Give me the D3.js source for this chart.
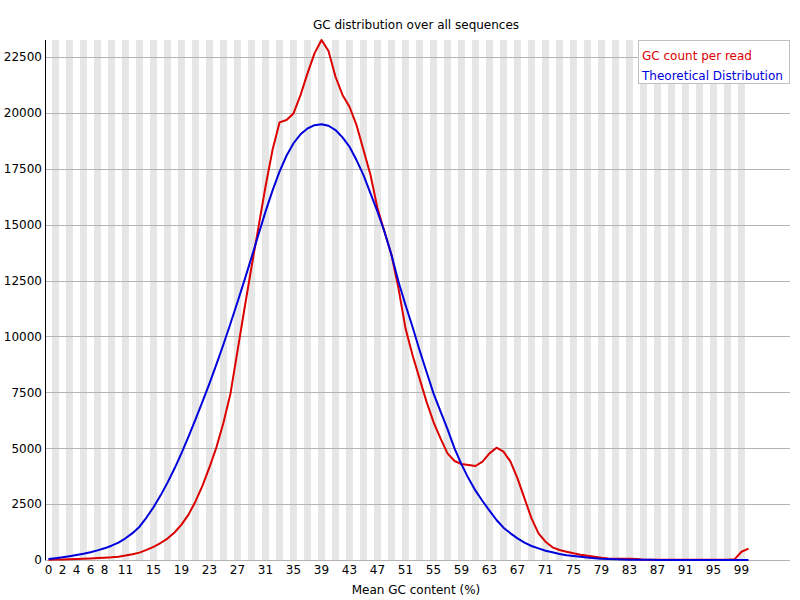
<!DOCTYPE html>
<html>
<head>
<meta charset="utf-8">
<script src="https://cdn.jsdelivr.net/npm/d3@7"></script>
<style>
  html, body { margin: 0; padding: 0; background: #fff; }
  svg { display: block; font-family: "DejaVu Sans", sans-serif; }
</style>
</head>
<body>
<svg id="chart" width="800" height="600"></svg>
<script>
// ---- data ----
const gcCategories = d3.range(0, 101).map(String);

const gcCountPerRead = [
  15, 20, 25, 30, 40, 55, 70, 85, 100, 120,
  150, 200, 260, 330, 450, 590, 760, 960, 1230, 1580,
  2030, 2620, 3330, 4150, 5050, 6150, 7450, 9350, 11250, 13100,
  14900, 16700, 18335, 19573, 19677, 19975, 20795, 21765, 22660, 23258,
  22763, 21614, 20800, 20272, 19453, 18335, 17217, 15727, 14682, 13640,
  12150, 10361, 9168, 8125, 7082, 6171, 5440, 4770, 4427, 4293,
  4248, 4204, 4398, 4770, 5023, 4845, 4398, 3652, 2758, 1863,
  1193, 820, 566, 447, 372, 298, 238, 194, 149, 104,
  70, 60, 55, 55, 50, 15, 12, 10, 10, 10,
  10, 10, 10, 10, 10, 10, 10, 10, 30, 370,
  510
];

const theoreticalDistribution = [
  45, 80, 119, 170, 224, 280, 343, 430, 522, 640,
  780, 970, 1200, 1490, 1900, 2360, 2880, 3460, 4090, 4780,
  5520, 6290, 7080, 7900, 8760, 9650, 10580, 11540, 12520, 13530,
  14560, 15580, 16520, 17370, 18080, 18640, 19040, 19300, 19450, 19490,
  19423, 19230, 18900, 18484, 17888, 17217, 16398, 15578, 14682, 13640,
  12447, 11404, 10435, 9391, 8422, 7453, 6650, 5850, 4994, 4278,
  3652, 3101, 2638, 2206, 1789, 1446, 1193, 969, 775, 626,
  522, 417, 343, 268, 209, 179, 149, 110, 80, 55,
  40, 30, 22, 16, 12, 9, 7, 5, 4, 3,
  2, 2, 1, 1, 1, 1, 1, 1, 1, 1,
  1
];

const yTickValues = [0, 2500, 5000, 7500, 10000, 12500, 15000, 17500, 20000, 22500];
const xTickLabels = ["0","2","4","6","8","11","15","19","23","27","31","35","39","43","47","51","55","59","63","67","71","75","79","83","87","91","95","99"];

const seriesNames = ["GC count per read", "Theoretical Distribution"];
const seriesColors = ["#dc0000", "#0000dc"];

(function () {
// ---- layout ----
const svg = d3.select("#chart");
const plotLeft = 45, plotRight = 790, plotTop = 40, plotBottom = 560;
const bandW = 7;

const x = d3.scaleBand()
  .domain(gcCategories)
  .range([plotLeft, plotLeft + bandW * gcCategories.length])
  .paddingInner(0).paddingOuter(0);

const yMax = d3.max(gcCountPerRead);
const y = d3.scaleLinear().domain([0, yMax]).range([plotBottom, plotTop]);

// alternating stripes
svg.append("g").selectAll("rect")
  .data(gcCategories.filter((d, i) => i % 2 === 1))
  .join("rect")
  .attr("x", d => x(d))
  .attr("y", plotTop)
  .attr("width", x.bandwidth())
  .attr("height", plotBottom - plotTop)
  .attr("fill", "#e6e6e6");

// horizontal grid lines
svg.append("g").selectAll("line")
  .data(yTickValues)
  .join("line")
  .attr("x1", plotLeft).attr("x2", plotRight)
  .attr("y1", d => Math.round(y(d)) + 0.5)
  .attr("y2", d => Math.round(y(d)) + 0.5)
  .attr("stroke", "#b4b4b4")
  .attr("stroke-width", 1);

// y axis labels via d3 axis
const yAxis = d3.axisLeft(y).tickValues(yTickValues).tickSize(0).tickPadding(0).tickFormat(d3.format("d"));
const gy = svg.append("g").attr("transform", `translate(${plotLeft - 3},0)`).call(yAxis);
gy.select(".domain").remove();
gy.selectAll("text").attr("font-size", 12).attr("font-family", "DejaVu Sans, sans-serif").attr("fill", "#000");

// y axis line
svg.append("line")
  .attr("x1", plotLeft + 0.5).attr("x2", plotLeft + 0.5)
  .attr("y1", plotTop).attr("y2", plotBottom)
  .attr("stroke", "#000").attr("stroke-width", 1);

// x axis labels
const xAxis = d3.axisBottom(x).tickValues(xTickLabels).tickSize(0).tickPadding(0);
const gx = svg.append("g").attr("transform", `translate(0,${plotBottom})`).call(xAxis);
gx.select(".domain").remove();
gx.selectAll("text").attr("font-size", 12).attr("font-family", "DejaVu Sans, sans-serif").attr("fill", "#000").attr("dy", "1.15em");

// lines
const line = d3.line()
  .x((d, i) => x(gcCategories[i]) + x.bandwidth() / 2)
  .y(d => y(d));

[gcCountPerRead, theoreticalDistribution].forEach((s, k) => {
  svg.append("path")
    .datum(s)
    .attr("d", line)
    .attr("fill", "none")
    .attr("stroke", seriesColors[k])
    .attr("stroke-width", 2)
    .attr("stroke-linejoin", "round");
});

// title
svg.append("text")
  .attr("x", 416).attr("y", 29)
  .attr("text-anchor", "middle")
  .attr("font-size", 12)
  .text("GC distribution over all sequences");

// x axis title
svg.append("text")
  .attr("x", 416).attr("y", 594)
  .attr("text-anchor", "middle")
  .attr("font-size", 12)
  .text("Mean GC content (%)");

// legend
const lg = svg.append("g");
lg.append("rect")
  .attr("x", 638.5).attr("y", 40.5)
  .attr("width", 151).attr("height", 43)
  .attr("fill", "#fff")
  .attr("stroke", "#c0c0c0");
seriesNames.forEach((n, k) => {
  lg.append("text")
    .attr("x", 642).attr("y", 60 + k * 20)
    .attr("font-size", 12)
    .attr("fill", seriesColors[k])
    .text(n);
});
})();
</script>
</body>
</html>
